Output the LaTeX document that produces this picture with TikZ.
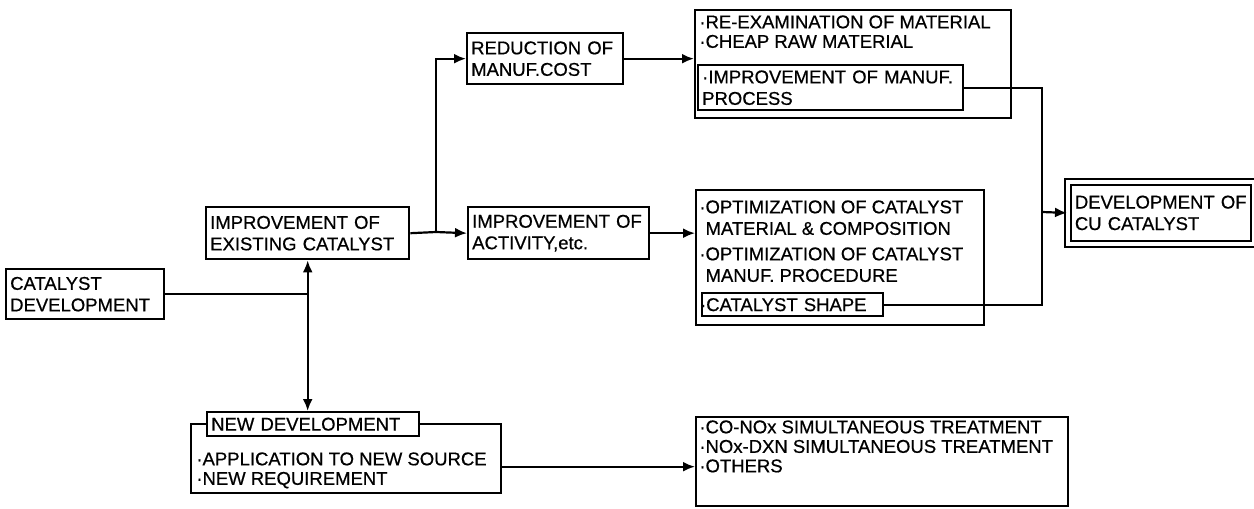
\documentclass[tikz,border=0pt]{standalone}
\usepackage{fontspec}
\setmainfont{Liberation Sans}[FakeBold=0.6]
\usetikzlibrary{arrows.meta}

\tikzset{
  box/.style 2 args={draw, line width=1.2pt, anchor=north west, align=left,
    inner xsep=2pt, inner ysep=0pt,
    text width={(#1)*0.5pt-4pt}, minimum height={(#2)*0.5pt}},
  frame/.style 2 args={draw, line width=1.2pt, anchor=north west, inner sep=0pt,
    minimum width={(#1)*0.5pt}, minimum height={(#2)*0.5pt}},
  txt/.style={anchor=north west, align=left, inner sep=0pt},
  link/.style={line width=1.1pt},
}

\begin{document}
\begin{tikzpicture}[x=0.5pt, y=-0.5pt, >={Latex[length=6pt,width=5pt]},
  font=\fontsize{9.25}{10.75}\selectfont]
  \useasboundingbox (0,0) rectangle (1254,509);

  % 左侧两框
  \node[box={158}{50}] (cd) at (5,268) {CATALYST\\DEVELOPMENT};
  \node[box={203}{52}] (iec) at (205,206) {IMPROVEMENT OF\\EXISTING CATALYST};

  % 新开发
  \node[frame={310}{69}] (ndo) at (190,423) {};
  \node[box={212}{24}, fill=white] (ndt) at (206,411) {NEW DEVELOPMENT};
  \node[txt] (ndx) at (196,452) {·APPLICATION TO NEW SOURCE\\[-1pt]·NEW REQUIREMENT};

  % 中间两框
  \node[box={156}{51}] (rmc) at (466,32) {REDUCTION OF\\MANUF.COST};
  \node[box={181}{52}] (ia) at (467,206) {IMPROVEMENT OF\\ACTIVITY,etc.};

  % 右侧措施框
  \node[frame={316}{108}] (mat) at (694,9) {};
  \node[txt] (matx) at (699,15) {·RE-EXAMINATION OF MATERIAL\\[-1pt]·CHEAP RAW MATERIAL};
  \node[box={265}{45}] (proc) at (697,64) {·IMPROVEMENT OF MANUF.\\PROCESS};

  \node[frame={288}{135}] (opt) at (695,189) {};
  \node[txt] (optx) at (699,200) {·OPTIMIZATION OF CATALYST\\
    \phantom{·}MATERIAL \& COMPOSITION\\[2pt]
    ·OPTIMIZATION OF CATALYST\\
    \phantom{·}MANUF. PROCEDURE};
  \node[box={181}{23}] (shape) at (701,292) {\llap{·}CATALYST SHAPE};

  \node[frame={372}{89}] (tr) at (695,416) {};
  \node[txt] (trx) at (699,420) {·CO-NOx SIMULTANEOUS TREATMENT\\[-1pt]
    ·NOx-DXN SIMULTANEOUS TREATMENT\\[-1pt]·OTHERS};

  % 目标
  \node[draw, double, double distance=2pt, line width=0.9pt, anchor=north west,
    align=left, inner xsep=3.5pt, text width=86pt, minimum height=31pt]
    (dcu) at (1067,181) {DEVELOPMENT OF\\CU CATALYST};

  % 连线
  \coordinate (jn) at (436,232);
  \coordinate (jr) at (1042,212);
  \draw[link] (cd.east) -- (cd.east -| iec.south);
  \draw[link, <->] (iec.south) -- (iec.south |- ndt.north);
  \draw[link] (iec.east) -- (jn);
  \draw[link, ->] (jn) |- (rmc.west);
  \draw[link, ->] (jn) -- (ia.west);
  \draw[link, ->] (rmc.east) -- (rmc.east -| mat.west);
  \draw[link, ->] (ia.east) -- (ia.east -| opt.west);
  \draw[link] (proc.east) -| (jr);
  \draw[link] (shape.east) -| (jr);
  \draw[link, ->] (jr) -- (dcu.west);
  \draw[link, ->] ([yshift=-4pt]ndo.east) -- ([yshift=-4pt]ndo.east -| tr.west);
\end{tikzpicture}
\end{document}
